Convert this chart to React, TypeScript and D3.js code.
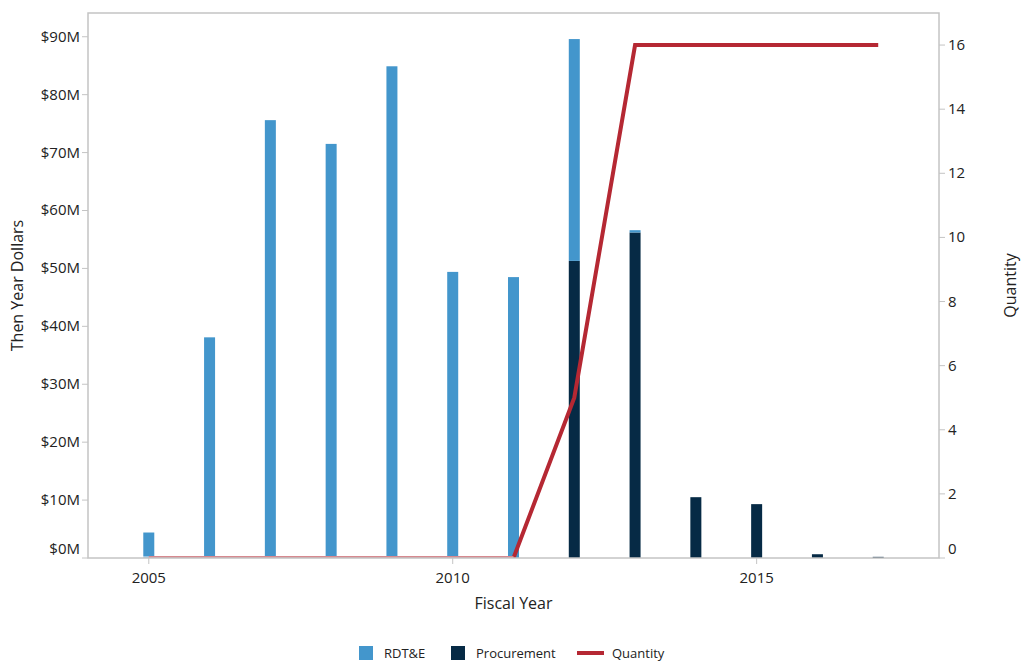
import React from "react";
import * as d3 from "d3";

const years = [2005, 2006, 2007, 2008, 2009, 2010, 2011, 2012, 2013, 2014, 2015, 2016, 2017];
const rdte = [4.4, 38.1, 75.6, 71.5, 84.9, 49.4, 48.5, 38.3, 0.4, 0, 0, 0, 0];
const procurement = [0, 0, 0, 0, 0, 0, 0, 51.3, 56.2, 10.5, 9.3, 0.65, 0.2];
const quantity = [0, 0, 0, 0, 0, 0, 0, 5, 16, 16, 16, 16, 16];
const dollarTicks = [0, 10, 20, 30, 40, 50, 60, 70, 80, 90];
const qtyTicks = [0, 2, 4, 6, 8, 10, 12, 14, 16];
const yearTicks = [2005, 2010, 2015];

const W = 1021, H = 661;
const L = 88, R = 939, T = 13, B = 558;
const FONT = "'Open Sans', sans-serif";
const C_RDTE = "#4396cc";
const C_PROC = "#062a45";
const C_QTY = "#b52833";
const C_AXIS = "#c4c4c4";
const C_TEXT = "#222";

export default function App() {
  const x = d3.scaleLinear().domain([2004, 2018]).range([L, R]);
  const y = d3.scaleLinear().domain([0, 94.1]).range([B, T]);
  const yq = d3.scaleLinear().domain([0, 17]).range([B, T]);
  const bw = 11;
  const line = d3.line<number>().x((_, i) => x(years[i])).y((d) => yq(d));

  return (
    <svg width={W} height={H} style={{ position: "absolute", left: 0, top: 0 }} fontFamily={FONT}>
      <defs>
        <clipPath id="plot">
          <rect x={L} y={T} width={R - L} height={B - T} />
        </clipPath>
      </defs>
      <rect x={0} y={0} width={W} height={H} fill="#fff" />
      {years.map((yr, i) => (
        <g key={yr}>
          {procurement[i] > 0 && (
            <rect x={x(yr) - bw / 2} width={bw} y={y(procurement[i])} height={y(0) - y(procurement[i])} fill={C_PROC} />
          )}
          {rdte[i] > 0 && (
            <rect x={x(yr) - bw / 2} width={bw} y={y(procurement[i] + rdte[i])} height={y(procurement[i]) - y(procurement[i] + rdte[i])} fill={C_RDTE} />
          )}
        </g>
      ))}
      <path d={line(quantity) || ""} fill="none" stroke={C_QTY} strokeWidth={4} strokeLinejoin="miter" clipPath="url(#plot)" />
      <line x1={L} x2={x(2011)} y1={B - 1} y2={B - 1} stroke="#fff" strokeOpacity={0.45} strokeWidth={2} />
      <rect x={L} y={T} width={R - L} height={B - T} fill="none" stroke={C_AXIS} strokeWidth={1.5} />
      {dollarTicks.map((t) => (
        <g key={"l" + t}>
          <line x1={L - 6} x2={L} y1={y(t)} y2={y(t)} stroke={C_AXIS} />
          <text x={L - 8} y={t === 0 ? y(t) - 4 : y(t) + 5} textAnchor="end" fontSize={15} fill={C_TEXT}>
            {"$" + t + "M"}
          </text>
        </g>
      ))}
      {qtyTicks.map((t) => (
        <g key={"r" + t}>
          <line x1={R} x2={R + 6} y1={yq(t)} y2={yq(t)} stroke={C_AXIS} />
          <text x={R + 9} y={t === 0 ? yq(t) - 4 : yq(t) + 5} textAnchor="start" fontSize={15} fill={C_TEXT}>
            {t}
          </text>
        </g>
      ))}
      {yearTicks.map((t) => (
        <g key={"x" + t}>
          <line x1={x(t)} x2={x(t)} y1={B} y2={B + 6} stroke={C_AXIS} />
          <text x={x(t)} y={B + 25} textAnchor="middle" fontSize={15} fill={C_TEXT}>
            {t}
          </text>
        </g>
      ))}
      <text x={(L + R) / 2} y={609} textAnchor="middle" fontSize={16} fill={C_TEXT}>Fiscal Year</text>
      <text transform={`translate(23,${(T + B) / 2}) rotate(-90)`} textAnchor="middle" fontSize={16} fill={C_TEXT}>Then Year Dollars</text>
      <text transform={`translate(1016,${(T + B) / 2}) rotate(-90)`} textAnchor="middle" fontSize={16} fill={C_TEXT}>Quantity</text>
      <g fontSize={13} fill={C_TEXT}>
        <rect x={359} y={646} width={14} height={14} fill={C_RDTE} />
        <text x={384} y={658}>RDT&amp;E</text>
        <rect x={451} y={646} width={14} height={14} fill={C_PROC} />
        <text x={476} y={658}>Procurement</text>
        <line x1={577} x2={604} y1={653} y2={653} stroke={C_QTY} strokeWidth={4} />
        <text x={612} y={658}>Quantity</text>
      </g>
    </svg>
  );
}
